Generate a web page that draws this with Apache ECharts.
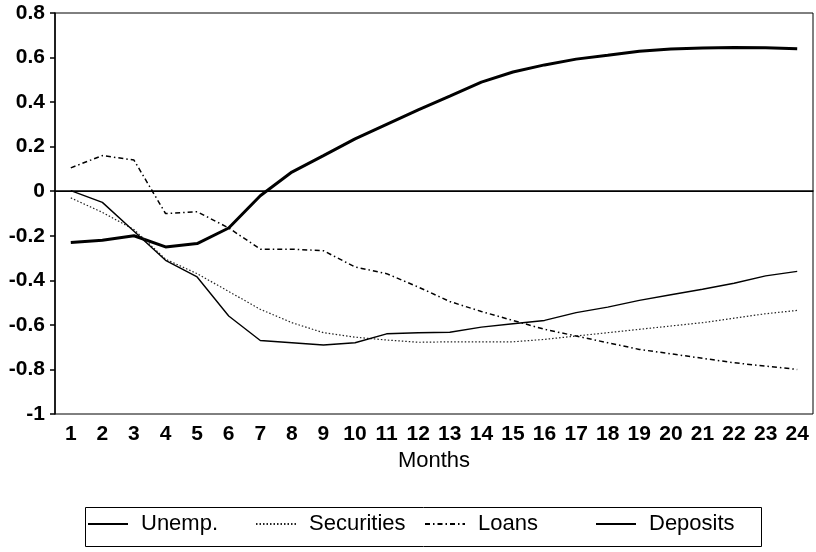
<!DOCTYPE html>
<html>
<head>
<meta charset="utf-8">
<script src="https://cdn.jsdelivr.net/npm/echarts@6/dist/echarts.min.js"></script>
<style>
  html, body { margin: 0; padding: 0; background: #fff; }
  #chart { width: 816px; height: 552px; }
</style>
</head>
<body>
<div id="chart"></div>
<script>
var months = ['1','2','3','4','5','6','7','8','9','10','11','12','13','14','15','16','17','18','19','20','21','22','23','24'];
var unemp = [-0.23, -0.22, -0.20, -0.25, -0.235, -0.165, -0.02, 0.086, 0.16, 0.235, 0.30, 0.365, 0.427, 0.49, 0.535, 0.567, 0.593, 0.61, 0.628, 0.638, 0.643, 0.645, 0.644, 0.64];
var securities = [-0.03, -0.095, -0.172, -0.305, -0.37, -0.45, -0.53, -0.59, -0.635, -0.655, -0.668, -0.678, -0.676, -0.676, -0.676, -0.665, -0.65, -0.635, -0.62, -0.605, -0.59, -0.57, -0.55, -0.535];
var loans = [0.105, 0.16, 0.14, -0.10, -0.092, -0.165, -0.26, -0.26, -0.267, -0.34, -0.37, -0.43, -0.495, -0.54, -0.58, -0.62, -0.65, -0.68, -0.71, -0.73, -0.75, -0.77, -0.785, -0.80];
var deposits = [0.003, -0.05, -0.18, -0.31, -0.385, -0.56, -0.67, -0.68, -0.69, -0.68, -0.64, -0.635, -0.633, -0.61, -0.595, -0.58, -0.545, -0.52, -0.49, -0.465, -0.44, -0.413, -0.38, -0.36];
var yTicks = { min: -1, max: 0.8, interval: 0.2 };

var FONT = 'Liberation Sans';
var chart = echarts.init(document.getElementById('chart'), null, { renderer: 'canvas' });

function legendAt(name, left) {
  return {
    data: [name], left: left, top: 513, padding: 0,
    itemWidth: 40, itemHeight: 14, selectedMode: false,
    itemStyle: { opacity: 0, borderWidth: 0 },
    textStyle: { fontFamily: FONT, fontSize: 22, color: '#000', padding: [0, 0, 0, 8] }
  };
}

chart.setOption({
  animation: false,
  backgroundColor: '#fff',
  grid: { left: 55, right: 3, top: 13, bottom: 138, show: true, borderColor: '#000', borderWidth: 1, backgroundColor: 'transparent' },
  legend: [legendAt('Unemp.', 87), legendAt('Securities', 255), legendAt('Loans', 424), legendAt('Deposits', 595)],
  graphic: [{
    type: 'rect', shape: { x: 85.5, y: 507.5, width: 676, height: 39 },
    style: { fill: 'none', stroke: '#000', lineWidth: 1 }, silent: true
  }],
  xAxis: {
    type: 'category', data: months, boundaryGap: true,
    name: 'Months', nameLocation: 'middle', nameGap: 36,
    nameTextStyle: { fontFamily: FONT, fontSize: 22, color: '#000' },
    axisLine: { lineStyle: { color: '#000', width: 1.5 } },
    axisTick: { alignWithLabel: true, interval: 0, length: 5, lineStyle: { color: '#000', width: 1.5 } },
    axisLabel: { interval: 0, margin: 10, fontFamily: FONT, fontSize: 21, fontWeight: 'bold', color: '#000' },
    splitLine: { show: false }
  },
  yAxis: {
    type: 'value', min: yTicks.min, max: yTicks.max, interval: yTicks.interval,
    axisLine: { show: true, lineStyle: { color: '#000', width: 1.5 } },
    axisTick: { show: true, length: 5, lineStyle: { color: '#000', width: 1.5 } },
    axisLabel: { margin: 10, fontFamily: FONT, fontSize: 21, fontWeight: 'bold', color: '#000',
      formatter: function (v) { return String(Math.round(v * 10) / 10); } },
    splitLine: { show: false }
  },
  series: [
    { name: 'Unemp.', type: 'line', data: unemp, symbol: 'none', smooth: false,
      lineStyle: { color: '#000', width: 3 }, itemStyle: { color: '#000' },
      markLine: { silent: true, symbol: 'none', label: { show: false },
        lineStyle: { color: '#000', width: 1.2, type: 'solid' }, data: [{ yAxis: 0 }] } },
    { name: 'Securities', type: 'line', data: securities, symbol: 'none',
      lineStyle: { color: '#222', width: 1.2, type: [1.5, 2] }, itemStyle: { color: '#222' } },
    { name: 'Loans', type: 'line', data: loans, symbol: 'none',
      lineStyle: { color: '#000', width: 1.5, type: [5, 3, 1.5, 3] }, itemStyle: { color: '#000' } },
    { name: 'Deposits', type: 'line', data: deposits, symbol: 'none',
      lineStyle: { color: '#000', width: 1.4 }, itemStyle: { color: '#000' } }
  ]
});
</script>
</body>
</html>
